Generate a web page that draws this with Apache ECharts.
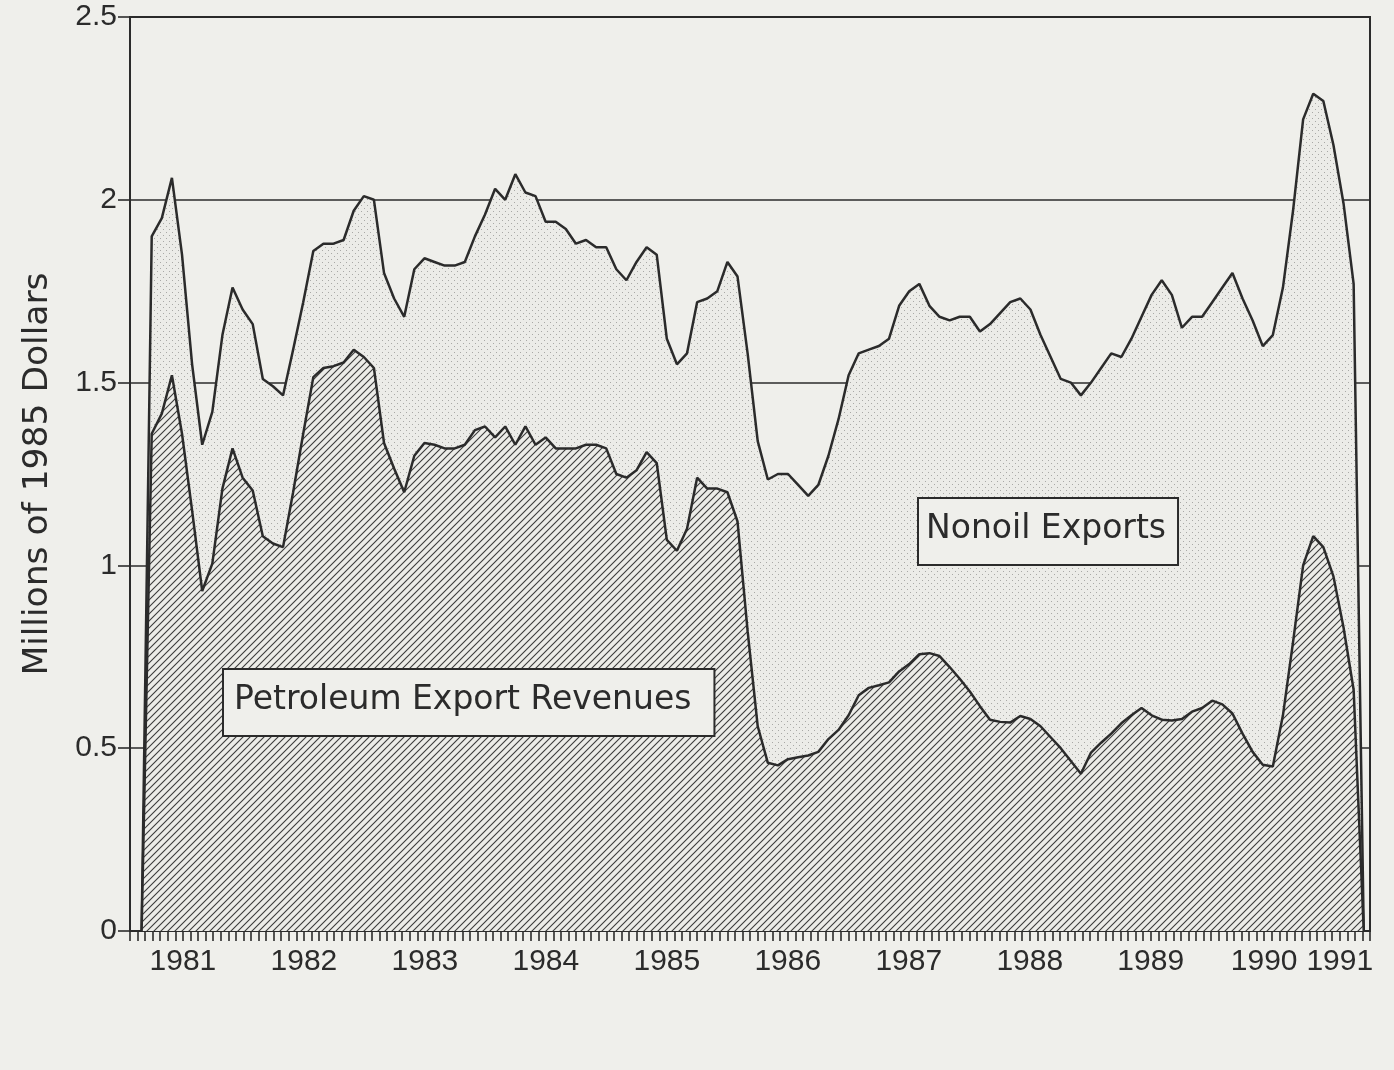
<!DOCTYPE html>
<html>
<head>
<meta charset="utf-8">
<title>Petroleum and Nonoil Exports</title>
<script src="https://cdn.jsdelivr.net/npm/echarts@6/dist/echarts.min.js"></script>
<style>
  html, body { margin: 0; padding: 0; background: #efefeb; }
  #main { width: 1394px; height: 1070px; }
</style>
</head>
<body>
<div id="main"></div>
<script>
// months counted from the start of 1981 (0 = Jan 1981), one point per month
var firstMonth = 2;

// top curve: petroleum + nonoil, millions of 1985 dollars
var totalExports = [
  0, 1.90, 1.95, 2.06, 1.85, 1.55, 1.33, 1.42, 1.63, 1.76,
  1.70, 1.66, 1.51, 1.49, 1.465, 1.59, 1.72, 1.86, 1.88, 1.88,
  1.89, 1.97, 2.01, 2.00, 1.80, 1.73, 1.68, 1.81, 1.84, 1.83,
  1.82, 1.82, 1.83, 1.90, 1.96, 2.03, 2.00, 2.07, 2.02, 2.01,
  1.94, 1.94, 1.92, 1.88, 1.89, 1.87, 1.87, 1.81, 1.78, 1.83,
  1.87, 1.85, 1.62, 1.55, 1.58, 1.72, 1.73, 1.75, 1.83, 1.79,
  1.58, 1.34, 1.235, 1.25, 1.25, 1.22, 1.19, 1.22, 1.30, 1.40,
  1.52, 1.58, 1.59, 1.60, 1.62, 1.71, 1.75, 1.77, 1.71, 1.68,
  1.67, 1.68, 1.68, 1.64, 1.66, 1.69, 1.72, 1.73, 1.70, 1.63,
  1.57, 1.51, 1.50, 1.465, 1.50, 1.54, 1.58, 1.57, 1.62, 1.68,
  1.74, 1.78, 1.74, 1.65, 1.68, 1.68, 1.72, 1.76, 1.80, 1.73,
  1.67, 1.60, 1.63, 1.76, 1.97, 2.22, 2.29, 2.27, 2.15, 1.99,
  1.77, 0
];

// lower curve: petroleum export revenues
var petroleum = [
  0, 1.36, 1.415, 1.52, 1.36, 1.15, 0.93, 1.005, 1.21, 1.32,
  1.24, 1.205, 1.08, 1.06, 1.05, 1.20, 1.36, 1.515, 1.54, 1.545,
  1.555, 1.59, 1.57, 1.54, 1.335, 1.265, 1.20, 1.30, 1.335, 1.33,
  1.32, 1.32, 1.33, 1.37, 1.38, 1.35, 1.38, 1.33, 1.38, 1.33,
  1.35, 1.32, 1.32, 1.32, 1.33, 1.33, 1.32, 1.25, 1.24, 1.26,
  1.31, 1.28, 1.07, 1.04, 1.10, 1.24, 1.21, 1.21, 1.20, 1.12,
  0.82, 0.56, 0.46, 0.453, 0.47, 0.475, 0.48, 0.49, 0.525, 0.55,
  0.59, 0.645, 0.665, 0.672, 0.68, 0.71, 0.73, 0.757, 0.76, 0.752,
  0.722, 0.69, 0.655, 0.615, 0.578, 0.572, 0.57, 0.588, 0.58, 0.56,
  0.53, 0.50, 0.465, 0.43, 0.488, 0.515, 0.54, 0.568, 0.59, 0.61,
  0.59, 0.578, 0.576, 0.58, 0.60, 0.61, 0.63, 0.62, 0.595, 0.54,
  0.49, 0.455, 0.45, 0.59, 0.79, 1.00, 1.08, 1.05, 0.97, 0.83,
  0.66, 0
];

// x axis: small ticks, year labels sit on some of them
var tickCount = 165;
var yearLabels = ['1981', '1982', '1983', '1984', '1985', '1986', '1987', '1988', '1989', '1990', '1991'];
var yearTickIndex = [7, 23, 39, 55, 71, 87, 103, 119, 135, 150, 160];

var ink = '#2b2b2b';
var paper = '#efefeb';

// fill patterns
function hatchPattern() {
  var c = document.createElement('canvas');
  var p = 7;
  c.width = p; c.height = p;
  var g = c.getContext('2d');
  g.fillStyle = '#ecece8';
  g.fillRect(0, 0, p, p);
  g.strokeStyle = '#3c3c3c';
  g.lineWidth = 1.1;
  g.beginPath();
  g.moveTo(-1, p + 1); g.lineTo(p + 1, -1);
  g.moveTo(-1, 1); g.lineTo(1, -1);
  g.moveTo(p - 1, p + 1); g.lineTo(p + 1, p - 1);
  g.stroke();
  return c;
}

function dotPattern() {
  var c = document.createElement('canvas');
  c.width = 6; c.height = 6;
  var g = c.getContext('2d');
  g.fillStyle = '#ecece8';
  g.fillRect(0, 0, 6, 6);
  g.fillStyle = '#a9a9a6';
  g.fillRect(1, 1, 1, 1);
  g.fillRect(4, 4, 1, 1);
  return c;
}

var categories = [];
for (var i = 0; i < tickCount; i++) categories.push('');
yearTickIndex.forEach(function (idx, k) { categories[idx] = yearLabels[k]; });

function pairs(values) {
  return values.map(function (v, k) { return [firstMonth + k, v]; });
}

var myChart = echarts.init(document.getElementById('main'));

var option = {
  backgroundColor: paper,
  animation: false,
  grid: {
    left: 130,
    right: 24,
    top: 17,
    bottom: 139,
    show: true,
    borderColor: ink,
    borderWidth: 2,
    backgroundColor: 'transparent'
  },
  xAxis: [
    {
      type: 'category',
      boundaryGap: false,
      data: categories,
      axisLine: { lineStyle: { color: ink, width: 2 } },
      axisTick: { interval: 0, length: 10, lineStyle: { color: ink, width: 1.6 } },
      axisLabel: {
        interval: 0,
        margin: 16,
        color: ink,
        fontFamily: 'Liberation Sans',
        fontSize: 30
      },
      splitLine: { show: false }
    },
    {
      // hidden time axis that places the monthly points
      type: 'value',
      show: false,
      min: 0.85,
      max: 123.62
    }
  ],
  yAxis: {
    type: 'value',
    min: 0,
    max: 2.5,
    interval: 0.5,
    name: 'Millions of 1985 Dollars',
    nameLocation: 'middle',
    nameGap: 74,
    nameTextStyle: { color: ink, fontFamily: 'DejaVu Sans', fontSize: 34.5 },
    axisLine: { show: true, lineStyle: { color: ink, width: 2 } },
    axisTick: { show: true, length: 12, lineStyle: { color: ink, width: 1.6 } },
    axisLabel: {
      margin: 13,
      color: ink,
      fontFamily: 'Liberation Sans',
      fontSize: 30
    },
    splitLine: { show: true, lineStyle: { color: ink, width: 1.6 } }
  },
  series: [
    {
      name: 'Nonoil Exports',
      type: 'line',
      xAxisIndex: 1,
      data: pairs(totalExports),
      showSymbol: false,
      z: 2,
      lineStyle: { color: ink, width: 2.5 },
      areaStyle: { color: { image: dotPattern(), repeat: 'repeat' }, opacity: 1 }
    },
    {
      name: 'Petroleum Export Revenues',
      type: 'line',
      xAxisIndex: 1,
      data: pairs(petroleum),
      showSymbol: false,
      z: 3,
      lineStyle: { color: ink, width: 2.5 },
      areaStyle: { color: { image: hatchPattern(), repeat: 'repeat' }, opacity: 1 }
    }
  ],
  graphic: [
    {
      type: 'text',
      left: 222,
      top: 668,
      z: 10,
      style: {
        text: 'Petroleum Export Revenues',
        font: '33px "DejaVu Sans"',
        fill: ink,
        backgroundColor: paper,
        borderColor: ink,
        borderWidth: 2,
        padding: [14, 22, 18, 10]
      }
    },
    {
      type: 'text',
      left: 917,
      top: 497,
      z: 10,
      style: {
        text: 'Nonoil Exports',
        font: '33px "DejaVu Sans"',
        fill: ink,
        backgroundColor: paper,
        borderColor: ink,
        borderWidth: 2,
        padding: [14, 11, 18, 7]
      }
    }
  ]
};

myChart.setOption(option);
</script>
</body>
</html>
